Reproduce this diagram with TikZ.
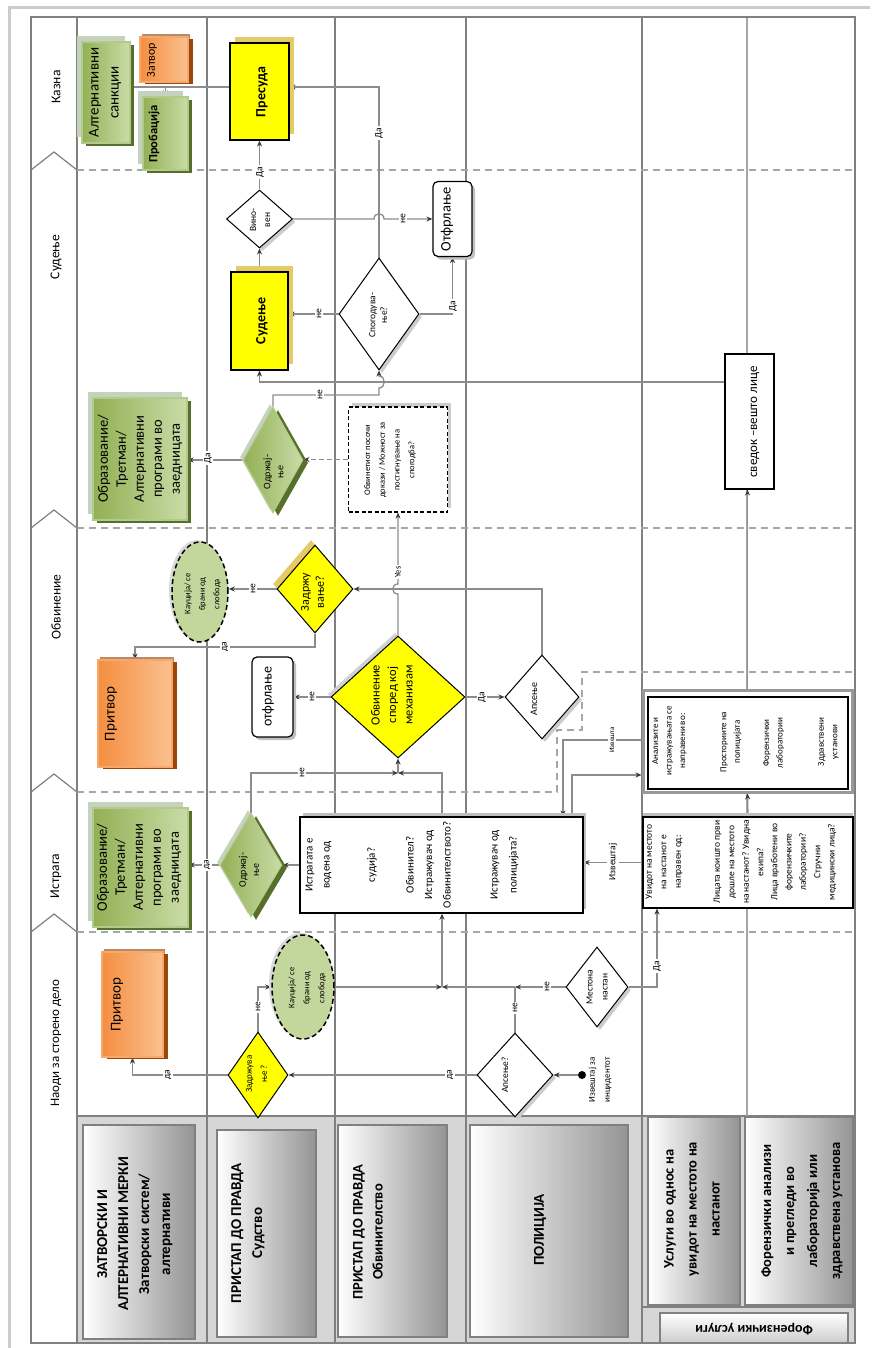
\documentclass[tikz,border=0pt]{standalone}
\usepackage{fontspec}
\setmainfont{Carlito}
\usetikzlibrary{shapes.geometric,arrows.meta,shadows}
\pgfdeclarelayer{bgl}
\pgfdeclarelayer{cnl}
\pgfsetlayers{bgl,cnl,main}
\definecolor{lnC}{HTML}{8C8C8C}
\definecolor{tipC}{HTML}{3A3A3A}
\definecolor{grL}{HTML}{92B054}
\definecolor{grR}{HTML}{C9DCA7}
\definecolor{grD}{HTML}{56702C}
\definecolor{grB}{HTML}{B3CB8A}
\definecolor{grS}{HTML}{C5D2BE}
\definecolor{orL}{HTML}{F58E40}
\definecolor{orR}{HTML}{FAC190}
\definecolor{orD}{HTML}{9A470E}
\definecolor{orB}{HTML}{F8A86A}
\definecolor{orS}{HTML}{B88A6A}
\definecolor{yel}{HTML}{FFFF00}
\definecolor{gold}{HTML}{E6CA66}
\definecolor{kauC}{HTML}{C3D69B}
\definecolor{hdrbg}{HTML}{D6D6D6}
\definecolor{frmC}{HTML}{808080}
\newcommand{\fsz}[2]{\fontsize{#1}{#2}\selectfont}
\tikzset{
 conn/.style={draw=lnC, line width=1.3pt},
 arr/.style={conn, -{Stealth[length=6pt,width=5pt,color=tipC]}},
 dconn/.style={arr, dash pattern=on 5pt off 3pt},
 txt/.style={rotate=90, align=center, inner sep=0pt},
 lbl/.style={rotate=90, fill=white, inner sep=1.5pt, font=\fsz{9.5}{10}},
 phase/.style={draw=black!35, line width=1.4pt, dash pattern=on 7pt off 5pt},
 lane/.style={draw=frmC, line width=1.2pt},
 greenbox/.style={rectangle, draw=grB, line width=1.3pt, left color=grL, right color=grR, inner sep=0pt,
   general shadow={shadow xshift=-5pt, shadow yshift=6pt, fill=grS},
   general shadow={shadow xshift=4pt, shadow yshift=-3pt, fill=grD}},
 orangebox/.style={rectangle, draw=orB, line width=1.3pt, left color=orL, right color=orR, inner sep=0pt,
   general shadow={shadow xshift=2pt, shadow yshift=3pt, fill=orS},
   general shadow={shadow xshift=5pt, shadow yshift=-2pt, fill=orD}},
 ybox/.style={rectangle, draw=black, line width=1.2pt, fill=yel, inner sep=0pt,
   general shadow={shadow xshift=5pt, shadow yshift=6pt, fill=gold}},
 wbox/.style={rectangle, draw=black, line width=1.1pt, fill=white, inner sep=0pt},
 rbox/.style={rectangle, rounded corners=5pt, draw=black, line width=1.2pt, fill=white, inner sep=0pt,
   general shadow={shadow xshift=3pt, shadow yshift=-3pt, fill=black!25}},
 dbx/.style={rectangle, draw=black, line width=1.2pt, dash pattern=on 4pt off 2.5pt, fill=white, inner sep=0pt,
   general shadow={shadow xshift=3pt, shadow yshift=4pt, fill=black!20}},
 wdia/.style={diamond, draw=black, line width=1pt, fill=white, inner sep=0pt,
   general shadow={shadow xshift=3pt, shadow yshift=-3pt, fill=black!20}},
 ydia/.style={diamond, draw=black, line width=1pt, fill=yel, inner sep=0pt},
 gdia/.style={diamond, draw=grB, line width=1pt, left color=grL, right color=grR, inner sep=0pt,
   general shadow={shadow xshift=-3pt, shadow yshift=3pt, fill=grS},
   general shadow={shadow xshift=5pt, shadow yshift=-3pt, fill=grD}},
 kau/.style={ellipse, draw=black, line width=1.5pt, dash pattern=on 5pt off 3pt, fill=kauC, inner sep=0pt,
   general shadow={shadow xshift=-3pt, shadow yshift=2pt, fill=black!15}},
 hbox/.style={rectangle, draw=frmC, line width=2pt, left color=white, right color=black!42, inner sep=0pt},
}
\begin{document}
\begin{tikzpicture}[x=1pt,y=-1pt]
\useasboundingbox (0,0) rectangle (885,1348);
\begin{pgfonlayer}{bgl}
\fill[white] (0,0) rectangle (885,1348);
\draw[black!20, line width=3pt] (9,1348) -- (9,8) -- (870,8);
\fill[hdrbg] (77,1116) rectangle (855,1343);
\draw[frmC, line width=2.5pt] (77,1116) -- (855,1116);
\foreach \x in {77,207,335,466,642} \draw[lane] (\x,17) -- (\x,1343);
\draw[black!35, line width=2.5pt] (747,17) -- (747,1307);
\draw[frmC, line width=1.2pt] (642,1307) -- (855,1307);
\draw[frmC, line width=1.3pt] (31,17) rectangle (855,1343);
\foreach \y in {170,528,932} \draw[phase] (77,\y) -- (855,\y);
\draw[phase] (77,792) -- (557,792) -- (557,730) -- (582,730) -- (582,672) -- (855,672);
\foreach \y in {170,528,792,932} \draw[frmC, line width=1.2pt] (31,\y) -- (54,\y-18) -- (77,\y);
\end{pgfonlayer}

% phase labels
\node[txt, font=\fsz{13.5}{16}] (ph1) at (56,87) {Казна};
\node[txt, font=\fsz{13.5}{16}] (ph2) at (56,257) {Судење};
\node[txt, font=\fsz{13.5}{16}] (ph3) at (56,607) {Обвинение};
\node[txt, font=\fsz{13.5}{16}] (ph4) at (56,876) {Истрага};
\node[txt, font=\fsz{13}{16}] (ph5) at (56,1043) {Наоди за сторено дело};

% header boxes
\node[hbox, minimum width=112pt, minimum height=214pt] (h1) at (139,1232) {};
\node[hbox, minimum width=99pt, minimum height=207pt] (h2) at (266.5,1233.5) {};
\node[hbox, minimum width=109pt, minimum height=212pt] (h3) at (392.5,1231) {};
\node[hbox, minimum width=158pt, minimum height=212pt] (h4) at (549,1231) {};
\node[hbox, minimum width=92pt, minimum height=188pt] (h5) at (694,1211) {};
\node[hbox, minimum width=108pt, minimum height=188pt] (h6) at (799,1211) {};
\node[hbox, top color=white, bottom color=black!20, minimum width=188pt, minimum height=30pt] (h7) at (754,1328) {};
\node[txt, font=\bfseries\fsz{15}{21}] (h1t) at (135,1234) {ЗАТВОРСКИ И\\АЛТЕРНАТИВНИ МЕРКИ\\Затворски систем/\\алтернативи};
\node[txt, font=\bfseries\fsz{15}{21}] (h2t) at (248,1233) {ПРИСТАП ДО ПРАВДА\\Судство};
\node[txt, font=\bfseries\fsz{14.5}{20}] (h3t) at (368,1232) {ПРИСТАП ДО ПРАВДА\\Обвинителство};
\node[txt, font=\bfseries\fsz{15}{21}] (h4t) at (540,1230) {ПОЛИЦИЈА};
\node[txt, font=\bfseries\fsz{14.5}{23}] (h5t) at (692,1209) {Услуги во однос на\\увидот на местото на\\настанот};
\node[txt, font=\bfseries\fsz{14.5}{23}] (h6t) at (802,1211) {Форензички анализи\\и прегледи во\\лабораторија или\\здравствена установа};
\node[rotate=180, inner sep=0pt, font=\bfseries\fsz{14}{16}] (h7t) at (754,1329) {Форензички услуги};

% lane 1 boxes
\node[greenbox, minimum width=48pt, minimum height=101pt] (alt) at (106,92.5) {};
\node[orangebox, minimum width=48pt, minimum height=45pt] (zat) at (164,59.5) {};
\node[greenbox, minimum width=45pt, minimum height=73pt] (prob) at (165.5,133.5) {};
\node[greenbox, minimum width=94pt, minimum height=122pt] (obrS) at (140,459) {};
\node[orangebox, minimum width=74pt, minimum height=107pt] (pritO) at (135,713.5) {};
\node[greenbox, minimum width=95pt, minimum height=119pt] (obrI) at (140.5,867.5) {};
\node[orangebox, minimum width=61pt, minimum height=105pt] (pritN) at (132.5,1004.5) {};
\node[txt, font=\fsz{15}{20}] (altT) at (105,92.5) {Алтернативни\\санкции};
\node[txt, font=\fsz{12}{14}] (zatT) at (152,60) {Затвор};
\node[txt, font=\bfseries\fsz{12.5}{14}] (probT) at (154,134) {Пробација};
\node[txt, font=\fsz{14.5}{18}] (obrST) at (140,459) {Образование/\\Третман/\\Алтернативни\\програми во\\заедницата};
\node[txt, font=\fsz{15}{18}] (pritOT) at (111,714) {Притвор};
\node[txt, font=\fsz{14.5}{18}] (obrIT) at (139,867.5) {Образование/\\Третман/\\Алтернативни\\програми во\\заедницата};
\node[txt, font=\fsz{15}{18}] (pritNT) at (117,1004.5) {Притвор};

% lanes 2-4
\node[ybox, minimum width=59pt, minimum height=97pt] (pres) at (259.5,91.5) {};
\node[wdia, minimum width=66pt, minimum height=58pt] (vin) at (259.5,219) {};
\node[ybox, minimum width=57pt, minimum height=98pt] (sud) at (259.5,321) {};
\node[wdia, minimum width=80pt, minimum height=112pt] (spog) at (379,314) {};
\node[rbox, minimum width=39pt, minimum height=75pt] (otf1) at (452.5,219) {};
\node[gdia, minimum width=60pt, minimum height=106pt] (odrS) at (273,460) {};
\node[dbx, minimum width=99pt, minimum height=105pt] (dbox) at (398,459.5) {};
\node[kau, minimum width=56pt, minimum height=100pt] (kauO) at (200,592) {};
\node[ydia, minimum width=76pt, minimum height=88pt, general shadow={shadow xshift=-4pt, shadow yshift=5pt, fill=gold}] (zadO) at (315,589) {};
\node[ydia, minimum width=134pt, minimum height=122pt, general shadow={shadow xshift=-3pt, shadow yshift=3pt, fill=black!18}] (obv) at (398,697) {};
\node[wdia, minimum width=74pt, minimum height=84pt] (apsO) at (542,697) {};
\node[rbox, minimum width=41pt, minimum height=80pt] (otf2) at (272.5,697) {};
\node[gdia, minimum width=62pt, minimum height=104pt] (odrI) at (251,865) {};
\node[wbox, line width=1.3pt, minimum width=283pt, minimum height=96pt, general shadow={shadow xshift=3pt, shadow yshift=4pt, fill=black!25}] (istr) at (441.5,865) {};
\node[kau, minimum width=62pt, minimum height=104pt] (kauN) at (303,987) {};
\node[ydia, minimum width=60pt, minimum height=86pt] (zadN) at (258,1075) {};
\node[wdia, minimum width=76pt, minimum height=84pt] (apsN) at (515,1075) {};
\node[wdia, minimum width=62pt, minimum height=80pt] (mest) at (597,987) {};
\node[circle, fill=black, minimum size=8pt, inner sep=0pt] (start) at (582,1075) {};
\node[wbox, minimum width=210pt, minimum height=91pt, general shadow={shadow xshift=0pt, shadow yshift=4pt, fill=black!25}] (uvid) at (748,862.5) {};
\node[rectangle, draw=black!40, line width=3pt, fill=white, minimum width=209pt, minimum height=102pt, inner sep=0pt] (analF) at (747.5,741) {};
\node[wbox, minimum width=200pt, minimum height=92pt] (anal) at (748,743) {};
\node[wbox, minimum width=49pt, minimum height=135pt] (sved) at (749.5,421.5) {};

% texts in nodes
\node[txt, font=\bfseries\fsz{14}{16}] (presT) at (262,92) {Пресуда};
\node[txt, font=\bfseries\fsz{14}{16}] (sudT) at (262,321) {Судење};
\node[txt, font=\fsz{9.5}{14}] (vinT) at (260,220) {Вино-\\вен};
\node[txt, font=\fsz{9.5}{11.5}] (spogT) at (378,315) {Спогодува-\\ње?};
\node[txt, font=\fsz{14.5}{16}] (otf1T) at (447,219.5) {Отфрлање};
\node[txt, font=\fsz{10}{13}] (odrST) at (273.5,472) {Одржај-\\ње};
\node[txt, font=\fsz{8.5}{14.7}] (dboxT) at (390,460) {Обвинетиот посочи\\докази / Можност  за\\постигнување на\\спогодба?};
\node[txt, font=\fsz{8.5}{14.5}] (kauOT) at (202.5,594) {Кауција/ се\\брани од\\слобода};
\node[txt, font=\fsz{12}{15}] (zadOT) at (312.5,592) {Задржу\\вање?};
\node[txt, font=\fsz{12.5}{16.5}] (obvT) at (392,695) {Обвинение\\според кој\\механизам};
\node[txt, font=\fsz{10}{12}] (apsOT) at (534,699) {Апсење};
\node[txt, font=\fsz{14}{16}] (otf2T) at (268,697) {отфрлање};
\node[txt, font=\fsz{10}{13}] (odrIT) at (249,870) {Одржај-\\ње};
\node[txt, font=\fsz{11}{17}] (it1) at (318.5,865) {Истрагата е\\водена од};
\node[txt, font=\fsz{11}{17}] (it2) at (372,865) {судија?};
\node[txt, font=\fsz{11}{18.5}] (it3) at (428.5,865) {Обвинител?\\Истражувач од\\Обвинителството?};
\node[txt, font=\fsz{11}{19}] (it4) at (504.5,865) {Истражувач од\\полицијата?};
\node[txt, font=\fsz{8.5}{15}] (kauNT) at (307,988) {Кауција/ се\\брани од\\слобода};
\node[txt, font=\fsz{9}{15}] (zadNT) at (256.5,1074) {Задржува\\ње ?};
\node[txt, font=\fsz{9.5}{12}] (apsNT) at (505,1075) {Апсење?};
\node[txt, font=\fsz{9.5}{15}] (mestT) at (597,987) {Местона\\настан};
\node[txt, font=\fsz{9}{15}] (startT) at (600,1080) {Извештај за\\инцидентот};
\node[txt, font=\fsz{9.5}{14.5}] (uv1) at (664,862) {Увидот на местото\\на настанот е\\направен од:};
\node[txt, font=\fsz{9.5}{14.5}] (uv2) at (738.5,862) {Лицата коишто први\\дошле на местото\\на настанот? Увидна\\екипа?};
\node[txt, font=\fsz{9.5}{14.3}] (uv3) at (803.5,862) {Лица вработени во\\форензичките\\лаборатории?\\Стручни\\медицински лица?};
\node[txt, font=\fsz{9}{13.5}] (an1) at (669.5,741) {Анализите и\\истражувањата се\\направени во:};
\node[txt, font=\fsz{9}{13.5}] (an2) at (731,742) {Просториите на\\полицијата};
\node[txt, font=\fsz{9}{13.5}] (an3) at (773.5,743) {Форензички\\лаборатории};
\node[txt, font=\fsz{9}{13.5}] (an4) at (828.5,742) {Здравствени\\установи};
\node[txt, font=\fsz{13}{15}] (svedT) at (755,422) {сведок –вешто лице};

% coordinates
\coordinate (k1) at (379,87);
\coordinate (k2) at (165.5,87);
\coordinate (k3) at (259.5,382);
\coordinate (k4) at (273,395);
\coordinate (k5) at (542,589);
\coordinate (k6) at (315,647);
\coordinate (J1) at (398,773);
\coordinate (k7) at (251,773);
\coordinate (k8) at (442,773);
\coordinate (k9) at (563,740);
\coordinate (k10) at (572,775);
\coordinate (k11) at (657,987);
\coordinate (J3) at (515,987);
\coordinate (J2) at (442,987);
\coordinate (k12) at (258,987);
\coordinate (k13) at (132.5,1075);

\begin{pgfonlayer}{cnl}
\draw[conn] (k1 -| pres.west) -- (k1 -| alt.east);
\draw[arr] (k2) -- (prob.north);
\draw[arr] (vin.north) -- (pres.south);
\draw[arr] (sud.north) -- (vin.south);
\draw[arr] (spog.north) -- (k1) -- (k1 -| pres.east);
\draw[arr] (vin.east) -- (374,219) .. controls (374,212) and (384,212) .. (384,219) -- (otf1.west);
\draw[arr] (spog.west) -- (spog.west -| sud.east);
\draw[arr] (spog.east) -- (spog.east -| otf1.south) -- (otf1.south);
\draw[arr] (k3 -| sved.west) -- (k3) -- (sud.south);
\draw[arr] (odrS.north) -- (k4) -- (k4 -| spog.south) -- (379,388) .. controls (386,388) and (386,376) .. (379,376) -- (spog.south);
\draw[dconn] (dbox.west) -- (dbox.west -| odrS.east);
\draw[arr] (odrS.west) -- (odrS.west -| obrS.east);
\draw[arr] (obv.north) -- (398,594) .. controls (391,594) and (391,584) .. (398,584) -- (dbox.south);
\draw[arr] (apsO.north) -- (k5) -- (zadO.east);
\draw[arr] (zadO.west) -- (zadO.west -| kauO.east);
\draw[arr] (zadO.south) -- (k6) -- (k6 -| pritO.north) -- (pritO.north);
\draw[arr] (obv.east) -- (apsO.west);
\draw[arr] (obv.west) -- (otf2.east);
\draw[arr] (J1) -- (obv.south);
\draw[arr] (odrI.north) -- (k7) -- (J1);
\draw[arr] (k8 |- istr.north) -- (k8) -- (J1);
\draw[arr] (istr.west) -- (odrI.east);
\draw[arr] (odrI.west) -- (odrI.west -| obrI.east);
\draw[arr] (uvid.west) -- (uvid.west -| istr.east);
\draw[arr] (k9 -| analF.west) -- (k9) -- (k9 |- istr.north);
\draw[arr] (k10 |- istr.north) -- (k10) -- (k10 -| analF.west);
\draw[arr] (uvid.north) -- (analF.south);
\draw[arr] (analF.north) -- (analF.north |- sved.south);
\draw[arr] (mest.east) -- (k11) -- (k11 |- uvid.south);
\draw[arr] (mest.west) -- (J3);
\draw[conn] (apsN.north) -- (J3);
\draw[arr] (J3) -- (J2);
\draw[arr] (kauN.east) -- (J2);
\draw[arr] (J2) -- (J2 |- istr.south);
\draw[arr] (zadN.north) -- (k12) -- (kauN.west);
\draw[arr] (zadN.west) -- (k13) -- (pritN.south);
\draw[arr] (apsN.west) -- (zadN.east);
\draw[arr] (start) -- (apsN.east);
\end{pgfonlayer}

% labels
\node[lbl] (lb1) at (260,172) {Да};
\node[lbl] (lb2) at (379,133) {Да};
\node[lbl] (lb3) at (403,219) {не};
\node[lbl] (lb4) at (319,314) {не};
\node[lbl] (lb5) at (453,306) {Да};
\node[lbl] (lb6) at (320,395) {не};
\node[lbl] (lb7) at (208,458) {Да};
\node[lbl, font=\fsz{8.5}{10}] (lb8) at (398,572) {Yes};
\node[lbl] (lb9) at (253,589) {не};
\node[lbl] (lb10) at (225,647) {да};
\node[lbl] (lb11) at (482,697) {Да};
\node[lbl] (lb12) at (312,697) {не};
\node[lbl] (lb13) at (302,773) {не};
\node[lbl] (lb14) at (207,865) {да};
\node[lbl, font=\fsz{9.5}{10}] (lb15) at (613,862) {Извештај};
\node[lbl, font=\fsz{7}{8}] (lb16) at (612,740) {Извешта};
\node[lbl] (lb17) at (657,966) {Да};
\node[lbl] (lb18) at (547,987) {не};
\node[lbl] (lb19) at (515,1008) {не};
\node[lbl] (lb20) at (258,1007) {не};
\node[lbl] (lb21) at (168,1075) {да};
\node[lbl] (lb22) at (450,1075) {да};
\end{tikzpicture}
\end{document}
